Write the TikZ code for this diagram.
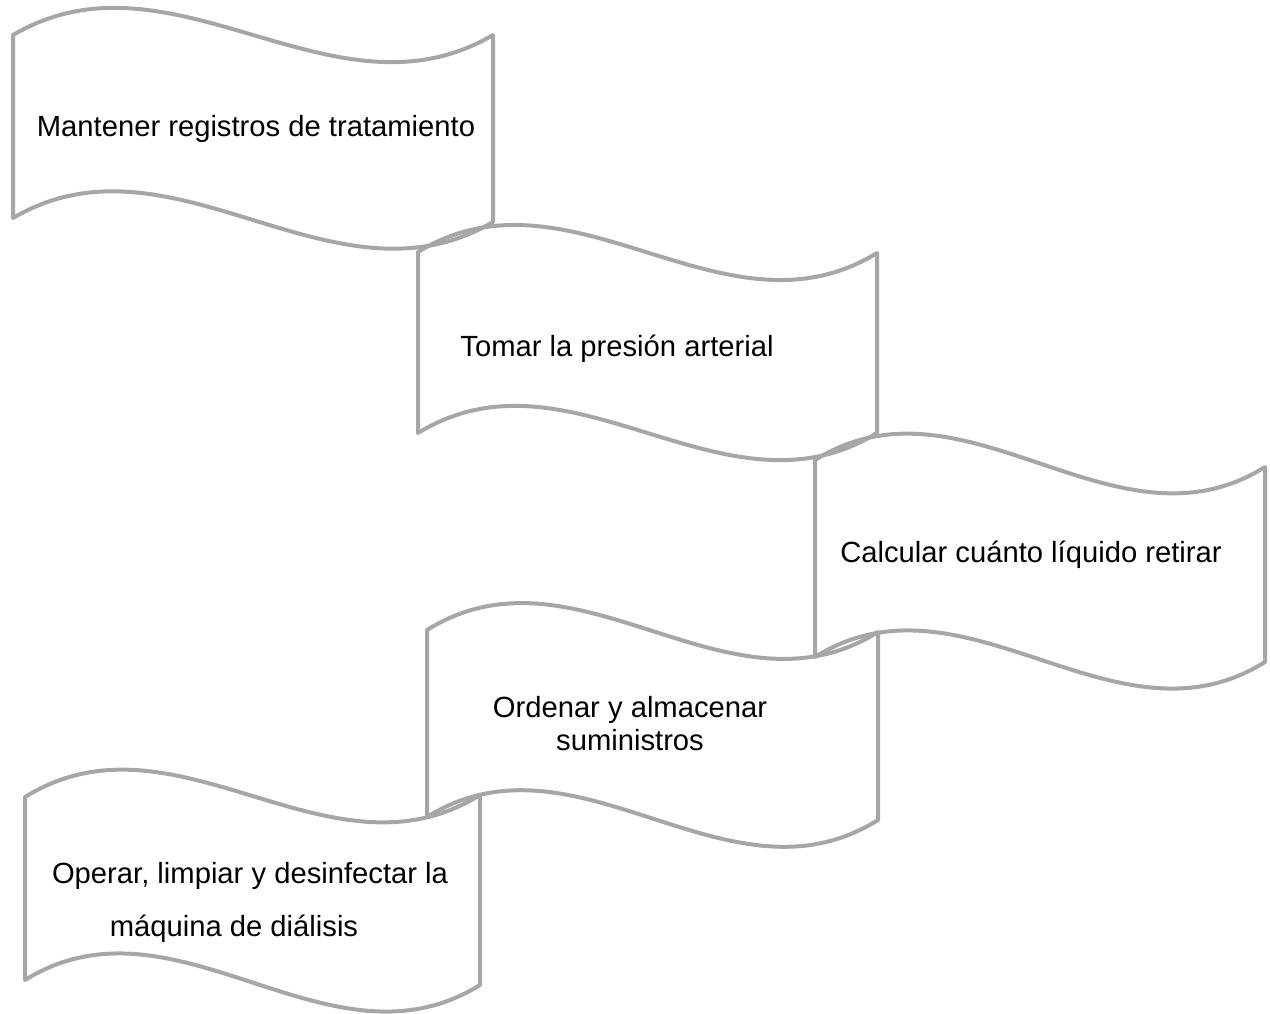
\documentclass[tikz,border=0pt]{standalone}
\usepackage{fontspec}
\setmainfont{Liberation Sans}
\definecolor{bannergray}{RGB}{166,166,166}
\tikzset{
  bannerline/.style={draw=bannergray, line width=2pt, line join=round},
  bannertext/.style={font=\fontsize{14.6}{17.5}\selectfont, text=black, inner sep=0pt}
}
\begin{document}
\begin{tikzpicture}[x=0.5pt,y=-0.5pt]
\useasboundingbox (0,0) rectangle (1270,1013);

% wavy banners: left x / top-left / right x / top-right / bottom-left / bottom-right
\foreach \l/\tl/\r/\tr/\bl/\br in {13/35/493/35/218/222, 418/252/877/253/433/433,
  815/460/1265/467/657/662, 427/630/878/632/817/820, 25/797/480/795/980/985}{
\draw [bannerline] (\l,\tl)
  .. controls ({\l+(\r-\l)/3},{\tl-94}) and ({\l+2*(\r-\l)/3},{\tr+94}) .. (\r,\tr)
  -- (\r,\br)
  .. controls ({\l+2*(\r-\l)/3},{\br+94}) and ({\l+(\r-\l)/3},{\bl-94}) .. (\l,\bl)
  -- cycle;
}

\node [bannertext] (registros) at (256,129) {Mantener registros de tratamiento};
\node [bannertext] (presion) at (617,349) {Tomar la presión arterial};
\node [bannertext] (liquido) at (1031,555) {Calcular cuánto líquido retirar};
\node [bannertext, align=center, font=\fontsize{14.6}{16.5}\selectfont] (suministros) at (630,724)
  {Ordenar y almacenar\\suministros};
\node [bannertext, align=center, font=\fontsize{14.6}{26.5}\selectfont] (maquina) at (250,902)
  {Operar, limpiar y desinfectar la\\máquina de diálisis\hspace*{16pt}};

\end{tikzpicture}
\end{document}
